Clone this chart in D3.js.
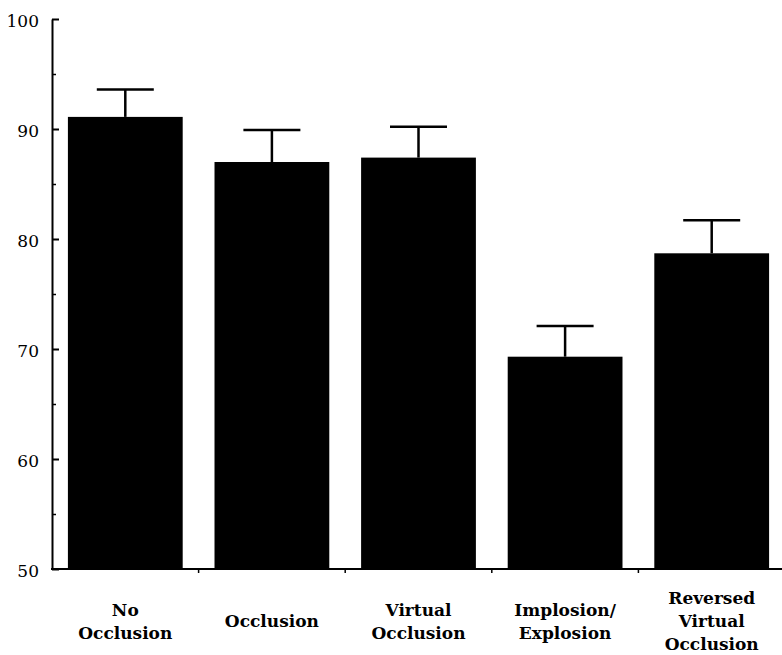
<!DOCTYPE html>
<html>
<head>
<meta charset="utf-8">
<script src="https://cdn.jsdelivr.net/npm/d3@7"></script>
<style>
  html, body { margin: 0; padding: 0; background: #fff; }
  svg { display: block; }
</style>
</head>
<body>
<svg id="chart" width="782" height="655"></svg>
<script>
// Condition labels (one array entry per text line)
const conditions = [
  ["No", "Occlusion"],
  ["Occlusion"],
  ["Virtual", "Occlusion"],
  ["Implosion/", "Explosion"],
  ["Reversed", "Virtual", "Occlusion"]
];
// Mean score per condition
const means = [91.1, 87.0, 87.4, 69.3, 78.7];
// Upper end of the error bar per condition
const errorTops = [93.6, 89.9, 90.2, 72.1, 81.7];
// Y axis labelled and minor ticks
const majorTicks = [50, 60, 70, 80, 90, 100];
const minorTicks = [55, 65, 75, 85, 95];

const svg = d3.select("#chart");
const plotLeft = 52, plotRight = 785, plotTop = 19, plotBottom = 569;

const keys = conditions.map(c => c.join(" "));
const x = d3.scaleBand().domain(keys).range([plotLeft, plotRight]).padding(0);
const y = d3.scaleLinear().domain([50, 100]).range([plotBottom, plotTop]);

const barW = x.bandwidth() * 0.783;

// Bars
svg.append("g").selectAll("rect")
  .data(keys)
  .join("rect")
  .attr("x", d => x(d) + (x.bandwidth() - barW) / 2)
  .attr("width", barW)
  .attr("y", (d, i) => y(means[i]))
  .attr("height", (d, i) => y(50) - y(means[i]) - 1)
  .attr("fill", "#000");

// Error bars: stem from bar top plus a cap
const capW = 57;
const err = svg.append("g").attr("stroke", "#000").attr("stroke-width", 2.5);
keys.forEach((k, i) => {
  const cx = x(k) + x.bandwidth() / 2;
  err.append("line")
    .attr("x1", cx).attr("x2", cx)
    .attr("y1", y(means[i])).attr("y2", y(errorTops[i]));
  err.append("line")
    .attr("x1", cx - capW / 2).attr("x2", cx + capW / 2)
    .attr("y1", y(errorTops[i])).attr("y2", y(errorTops[i]));
});

// Y axis with inward ticks
const yAxis = svg.append("g")
  .attr("transform", `translate(${plotLeft},0)`)
  .call(d3.axisLeft(y).tickValues(majorTicks).tickSizeInner(-7).tickSizeOuter(0).tickPadding(13));
yAxis.select(".domain").attr("stroke", "#000").attr("stroke-width", 2);
yAxis.selectAll(".tick line").attr("stroke", "#000").attr("stroke-width", 2);
yAxis.selectAll(".tick text")
  .attr("font-family", "'DejaVu Serif', serif")
  .attr("font-size", 17)
  .attr("fill", "#000")
  .attr("dy", "0.42em");

const yMinor = svg.append("g")
  .attr("transform", `translate(${plotLeft},0)`)
  .call(d3.axisLeft(y).tickValues(minorTicks).tickSizeInner(-4).tickSizeOuter(0).tickFormat(""));
yMinor.select(".domain").remove();
yMinor.selectAll(".tick line").attr("stroke", "#000").attr("stroke-width", 1.5);

// X axis baseline with ticks at category boundaries
const xAxis = svg.append("g");
xAxis.append("line")
  .attr("x1", plotLeft - 1).attr("x2", plotRight)
  .attr("y1", plotBottom).attr("y2", plotBottom)
  .attr("stroke", "#000").attr("stroke-width", 2);
xAxis.selectAll("line.bound")
  .data(keys.slice(1))
  .join("line")
  .attr("class", "bound")
  .attr("x1", d => x(d)).attr("x2", d => x(d))
  .attr("y1", plotBottom).attr("y2", plotBottom + 4)
  .attr("stroke", "#000").attr("stroke-width", 1.5);

// Category labels, stacked lines centred under each bar
const lineH = 23, midBase = 627;
conditions.forEach((lines, i) => {
  const cx = x(keys[i]) + x.bandwidth() / 2;
  const t = svg.append("text")
    .attr("text-anchor", "middle")
    .attr("font-family", "'DejaVu Serif', serif")
    .attr("font-weight", "bold")
    .attr("font-size", 17)
    .attr("fill", "#000");
  lines.forEach((ln, j) => {
    t.append("tspan")
      .attr("x", cx)
      .attr("y", midBase + (j - (lines.length - 1) / 2) * lineH)
      .text(ln);
  });
});
</script>
</body>
</html>
